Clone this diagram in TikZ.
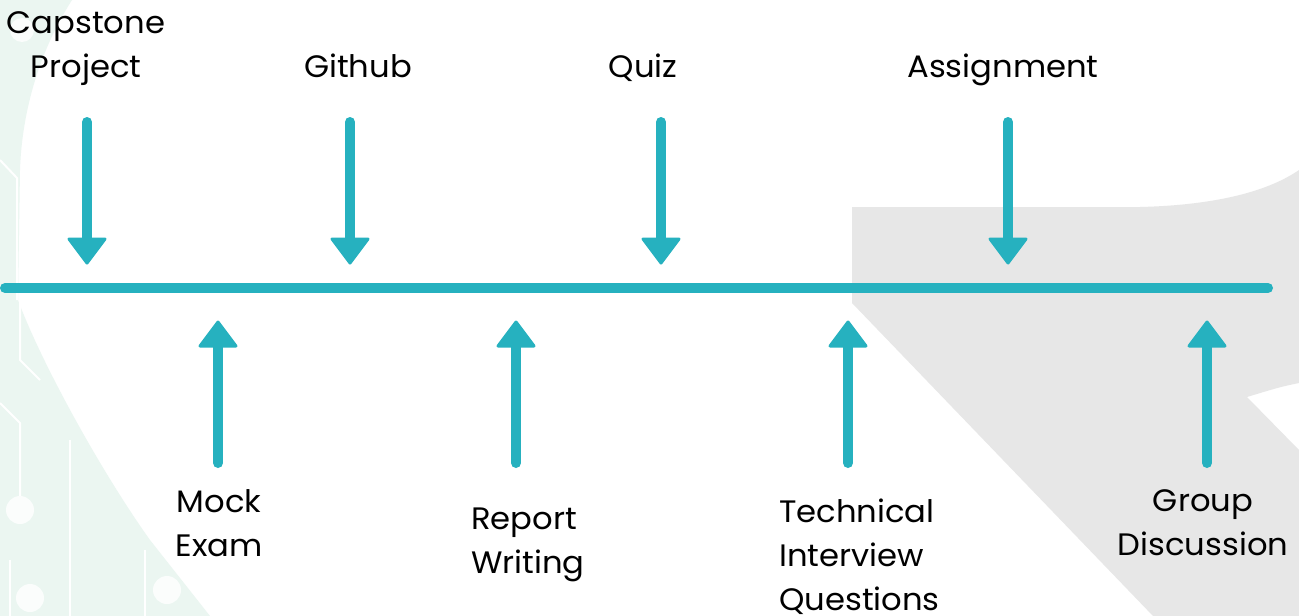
\documentclass[tikz,border=0pt]{standalone}
\usepackage{fontspec}
\setmainfont[FakeStretch=1.04]{Poppins}
\definecolor{teal}{HTML}{26B1BF}
\definecolor{greybg}{HTML}{E7E7E7}
\definecolor{mint}{HTML}{EBF6F1}
\begin{document}
\begin{tikzpicture}[x=1pt,y=-1pt,
  shaft/.style={line width=10pt,line cap=round,draw=teal},
  head/.style={fill=teal,draw=teal,line width=3pt,line join=round},
  lbl/.style={inner sep=0pt,font=\fontsize{31}{44}\selectfont,text=black},
  circ/.style={draw=white,line width=2pt},
  pad/.style={fill=white,opacity=0.8}]
\useasboundingbox (0,0) rectangle (1299,616);
\fill[white] (0,0) rectangle (1299,616);
% left mint background with circuit traces
\fill[mint] (0,0) -- (72,0) .. controls (40,50) and (22,110) .. (20,170)
  -- (18,300) .. controls (40,360) and (100,470) .. (150,540) -- (210,616) -- (0,616) -- cycle;
\draw[circ] (0,403) -- (20,423) -- (20,496);
\fill[pad] (20,510) circle (14);
\draw[circ] (10,560) -- (10,616);
\fill[pad] (30,598) circle (14);
\draw[circ] (70,440) -- (70,616);
\draw[circ] (145,550) -- (145,616);
\fill[pad] (167,590) circle (14);
\draw[circ] (0,160) -- (17,178) -- (17,300);
\draw[circ] (20,300) -- (20,360) -- (40,380);
\fill[pad] (22,30) circle (12);
% right grey background shape
\fill[greybg] (852,207) -- (1140,207) .. controls (1220,205) and (1270,190) .. (1299,170)
  -- (1299,383) .. controls (1280,387) .. (1247,397) -- (1299,450) -- (1299,616)
  -- (1153,616) -- (852,303) -- cycle;
% timeline
\coordinate (tl0) at (5,288);
\coordinate (tl1) at (1268,288);
\draw[shaft] (tl0) -- (tl1);
% arrows pointing down
\foreach \n/\x in {a/87,b/350,c/661,d/1008}{
  \coordinate (s\n) at (\x,122);
  \coordinate (e\n) at (\x,240);
  \draw[shaft] (s\n) -- (e\n);
  \filldraw[head] (\x-18,239) -- (\x+18,239) -- (\x,263) -- cycle;
}
% arrows pointing up
\foreach \n/\x in {e/218,f/516,g/848,h/1207}{
  \coordinate (s\n) at (\x,463);
  \coordinate (e\n) at (\x,345);
  \draw[shaft] (s\n) -- (e\n);
  \filldraw[head] (\x-18,346) -- (\x+18,346) -- (\x,322) -- cycle;
}
% labels (multi-line nodes: base = last line's baseline)
\node[lbl,anchor=base,align=center] (la) at (86,77) {Capstone\\Project};
\node[lbl,anchor=base] (lb) at (358,77) {Github};
\node[lbl,anchor=base] (lc) at (643,77) {Quiz};
\node[lbl,anchor=base] (ld) at (1003,77) {Assignment};
\node[lbl,anchor=base,align=center] (le) at (219,556) {Mock\\Exam};
\node[lbl,anchor=base west,align=left] (lf) at (471,573) {Report\\Writing};
\node[lbl,anchor=base west,align=left] (lg) at (779,610) {Technical\\Interview\\Questions};
\node[lbl,anchor=base,align=center] (lh) at (1203,555) {Group\\Discussion};
\end{tikzpicture}
\end{document}
